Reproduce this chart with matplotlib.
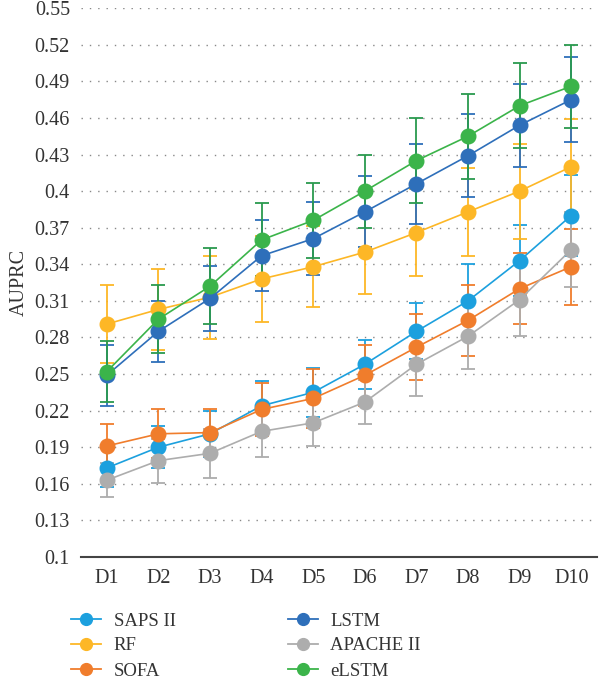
import matplotlib
matplotlib.use("Agg")
import matplotlib.pyplot as plt
from matplotlib.lines import Line2D

# AUPRC per prediction day, mean and error half-width
days = ["D1", "D2", "D3", "D4", "D5", "D6", "D7", "D8", "D9", "D10"]

saps = [0.173, 0.190, 0.201, 0.224, 0.235, 0.258, 0.285, 0.310, 0.343, 0.380]
saps_err = [0.016, 0.017, 0.019, 0.020, 0.020, 0.020, 0.023, 0.030, 0.029, 0.033]
rf = [0.291, 0.303, 0.313, 0.328, 0.338, 0.350, 0.366, 0.383, 0.400, 0.420]
rf_err = [0.032, 0.033, 0.034, 0.035, 0.033, 0.034, 0.036, 0.036, 0.039, 0.039]
sofa = [0.191, 0.201, 0.202, 0.221, 0.230, 0.249, 0.272, 0.294, 0.320, 0.338]
sofa_err = [0.018, 0.020, 0.019, 0.022, 0.024, 0.025, 0.027, 0.029, 0.029, 0.031]
lstm = [0.249, 0.285, 0.312, 0.347, 0.361, 0.383, 0.406, 0.429, 0.454, 0.475]
lstm_err = [0.025, 0.025, 0.027, 0.029, 0.030, 0.029, 0.033, 0.034, 0.034, 0.035]
apache = [0.163, 0.179, 0.185, 0.203, 0.210, 0.227, 0.258, 0.281, 0.311, 0.352]
apache_err = [0.014, 0.018, 0.020, 0.021, 0.019, 0.018, 0.026, 0.027, 0.030, 0.031]
elstm = [0.252, 0.295, 0.322, 0.360, 0.376, 0.400, 0.425, 0.445, 0.470, 0.486]
elstm_err = [0.025, 0.028, 0.031, 0.030, 0.031, 0.030, 0.035, 0.035, 0.035, 0.034]

yticks = [0.1, 0.13, 0.16, 0.19, 0.22, 0.25, 0.28, 0.31, 0.34, 0.37, 0.4,
          0.43, 0.46, 0.49, 0.52, 0.55]
ytick_labels = ["0.1", "0.13", "0.16", "0.19", "0.22", "0.25", "0.28", "0.31",
                "0.34", "0.37", "0.4", "0.43", "0.46", "0.49", "0.52", "0.55"]

series = [
    ("SAPS II", saps, saps_err, "#1ca0de"),
    ("RF", rf, rf_err, "#fdb726"),
    ("SOFA", sofa, sofa_err, "#f07d2c"),
    ("LSTM", lstm, lstm_err, "#2e6fba"),
    ("APACHE II", apache, apache_err, "#adadad"),
    ("eLSTM", elstm, elstm_err, "#3bb44a"),
]

plt.rcParams["font.family"] = ["Liberation Serif", "DejaVu Serif"]

fig = plt.figure(figsize=(6.0, 6.83), dpi=100)
ax = fig.add_axes([0.135, 0.1845, 0.86, 0.8035])

x = list(range(len(days)))
for name, vals, err, col in series:
    ecol = "#2a9a4e" if name == "eLSTM" else col
    ax.errorbar(x, vals, yerr=err, color=col, ecolor=ecol, elinewidth=1.3,
                capsize=5, capthick=1.3, lw=1.2, marker="o", ms=10.5,
                label=name)

ax.set_xlim(-0.5, len(days) - 0.5)
ax.set_ylim(0.1, 0.55)
ax.set_yticks(yticks)
ax.set_yticklabels(ytick_labels)
ax.set_xticks(x)
ax.set_xticklabels(days)
ax.tick_params(axis="both", length=0, labelsize=14.5, colors="#333333")
ax.tick_params(axis="y", pad=8)
ax.tick_params(axis="x", pad=9)
ax.grid(axis="y", linestyle=(0, (1, 5)), color="#888888", lw=1.0)
ax.set_axisbelow(True)
for s in ["top", "right", "left"]:
    ax.spines[s].set_visible(False)
ax.spines["bottom"].set_color("#444444")
ax.spines["bottom"].set_linewidth(1.5)
ax.set_ylabel("AUPRC", fontsize=14.5, color="#333333", labelpad=4)

# legend below the plot, two columns
leg_handles = [Line2D([], [], color=c, marker="o", ms=8.5, lw=1.3)
               for _, _, _, c in series]
leg_labels = [n for n, _, _, _ in series]
fig.legend(leg_handles, leg_labels, loc="upper left",
           bbox_to_anchor=(62 / 600, 1 - 603 / 683),
           ncol=2, frameon=False, fontsize=13.5, handlelength=1.6,
           borderpad=0, columnspacing=6.0, labelspacing=0.42,
           handletextpad=0.65, labelcolor="#333333")

fig.savefig("out.png", dpi=100)
